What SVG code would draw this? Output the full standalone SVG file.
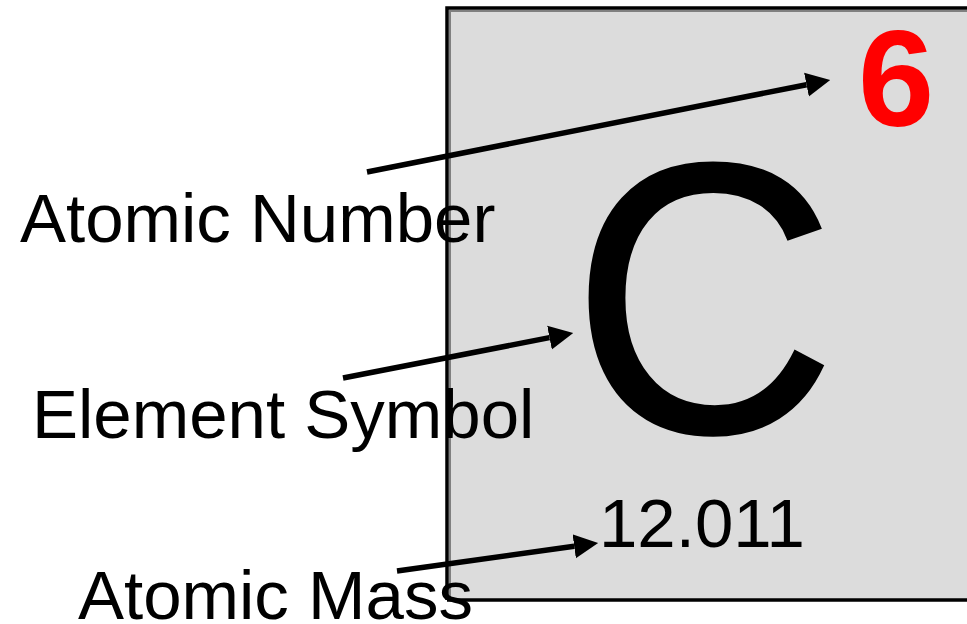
<svg xmlns="http://www.w3.org/2000/svg" width="967" height="624" viewBox="0 0 967 624">
  <style>
    .lbl { font-family: "Liberation Sans", Arial, sans-serif; font-size: 69px; fill: #000; }
    .conn { stroke: #000; stroke-width: 5.5; fill: none; marker-end: url(#ah); }
  </style>
  <defs>
    <marker id="ah" viewBox="0 0 10 10" refX="0" refY="5" markerWidth="4.4" markerHeight="4.6" markerUnits="strokeWidth" orient="auto">
      <path d="M0,0 L10,5 L0,10 z" fill="#000"/>
    </marker>
  </defs>
  <rect width="967" height="624" fill="#fff"/>
  <g id="element-tile">
    <rect x="447" y="8" width="530" height="592" fill="#dcdcdc"/>
    <path d="M450,600 V11 H967" stroke="#808080" stroke-width="2" fill="none"/>
    <path d="M447,600 V8 H967 M447,600 H967" stroke="#000" stroke-width="3.5" fill="none"/>
  </g>
  <g id="atomic-number-value">
    <text x="858" y="126" font-family="'Liberation Sans', Arial, sans-serif" font-weight="bold" font-size="137" fill="#ff0000">6</text>
  </g>
  <g id="symbol-value">
    <text x="568" y="432" transform="translate(705,0) scale(0.955,1) translate(-708.5,0)" font-family="'Liberation Sans', Arial, sans-serif" font-size="386" fill="#000" stroke="#000" stroke-width="2">C</text>
  </g>
  <g id="mass-value">
    <text x="599" y="547" class="lbl" font-size="70">12.011</text>
  </g>
  <g id="connectors">
    <line class="conn" x1="367" y1="172" x2="806.5" y2="84.7"/>
    <line class="conn" x1="343" y1="378" x2="549.5" y2="337.6"/>
    <line class="conn" x1="397" y1="571" x2="574.2" y2="546.3"/>
  </g>
  <g id="label-atomic-number">
    <text x="20" y="242" class="lbl">Atomic Number</text>
  </g>
  <g id="label-element-symbol">
    <text x="32" y="438" class="lbl">Element Symbol</text>
  </g>
  <g id="label-atomic-mass">
    <text x="78" y="619" class="lbl">Atomic Mass</text>
  </g>
</svg>
